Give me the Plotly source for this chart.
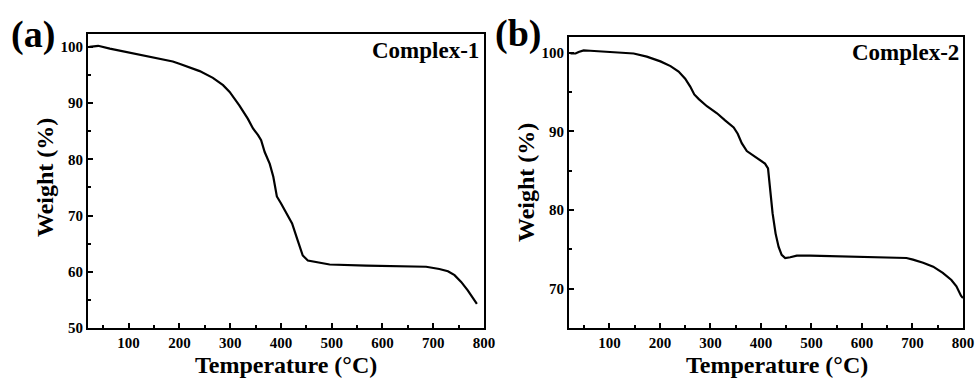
import plotly.graph_objects as go

# Panel (a) Complex-1
temp_a = [23, 40, 63, 100, 135, 187, 200, 240, 266, 286, 299, 318, 335, 345, 355, 361,
          368, 378, 385, 392, 400, 410, 422, 433, 443, 453, 476, 496, 568, 633, 686,
          712, 729, 742, 755, 768, 786]
weight_a = [100.0, 100.2, 99.7, 99.0, 98.4, 97.4, 97.0, 95.7, 94.5, 93.2, 92.0, 89.6, 87.2,
            85.5, 84.3, 83.4, 81.3, 79.2, 76.9, 73.4, 72.2, 70.6, 68.6, 65.6, 62.9, 62.0,
            61.6, 61.3, 61.1, 61.0, 60.9, 60.5, 60.1, 59.4, 58.2, 56.7, 54.3]

# Panel (b) Complex-2
temp_b = [23, 33, 39, 49, 62, 100, 148, 174, 201, 221, 237, 250, 260, 268, 277, 293, 313,
          329, 346, 354, 362, 372, 385, 398, 408, 414, 418, 423, 429, 435, 441, 448, 458,
          471, 497, 557, 622, 688, 701, 721, 741, 760, 777, 787, 796, 800]
weight_b = [99.9, 99.9, 100.1, 100.3, 100.25, 100.1, 99.9, 99.5, 98.9, 98.3, 97.6, 96.7,
            95.7, 94.7, 94.1, 93.2, 92.3, 91.4, 90.5, 89.7, 88.5, 87.5, 86.9, 86.4, 85.9,
            85.3, 82.5, 79.6, 77.0, 75.3, 74.3, 73.9, 74.0, 74.2, 74.2, 74.1, 74.0, 73.9,
            73.7, 73.3, 72.8, 72.0, 71.1, 70.3, 69.1, 68.8]

x_ticks = [100, 200, 300, 400, 500, 600, 700, 800]
y_ticks_a = [50, 60, 70, 80, 90, 100]
y_ticks_b = [70, 80, 90, 100]

W, H = 977, 378
FONT = "Times New Roman, Liberation Serif, serif"

def px_x(p):
    return p / W

def px_y(p):
    return 1 - p / H

fig = go.Figure()
fig.add_trace(go.Scatter(x=temp_a, y=weight_a, mode="lines", line=dict(color="black", width=2.2),
                         xaxis="x", yaxis="y", showlegend=False))
fig.add_trace(go.Scatter(x=temp_b, y=weight_b, mode="lines", line=dict(color="black", width=2.2),
                         xaxis="x2", yaxis="y2", showlegend=False))

tickfont = dict(family=FONT, size=15, color="black", weight="bold")

def xaxis(domain, anchor):
    return dict(domain=domain, anchor=anchor, range=[20, 800], tickvals=x_ticks,
                ticks="inside", ticklen=5, tickwidth=1.5, tickcolor="black",
                showline=True, linecolor="black", linewidth=2, mirror=True,
                showgrid=False, zeroline=False, tickfont=tickfont, automargin=False,
                minor=dict(tickvals=[50, 150, 250, 350, 450, 550, 650, 750], ticks="inside",
                           ticklen=3, tickwidth=1.5, tickcolor="black", showgrid=False))

def yaxis(domain, anchor, rng, tv, minor_vals):
    return dict(domain=domain, anchor=anchor, range=rng, tickvals=tv,
                ticks="inside", ticklen=5, tickwidth=1.5, tickcolor="black",
                showline=True, linecolor="black", linewidth=2, mirror=True,
                showgrid=False, zeroline=False, tickfont=tickfont, automargin=False,
                minor=dict(tickvals=minor_vals, ticks="inside",
                           ticklen=3, tickwidth=1.5, tickcolor="black", showgrid=False))

fig.update_layout(
    width=W, height=H, autosize=False,
    margin=dict(l=0, r=0, t=0, b=0),
    paper_bgcolor="white", plot_bgcolor="white",
    xaxis=xaxis([px_x(88), px_x(484)], "y"),
    yaxis=yaxis([px_y(328), px_y(34)], "x", [50, 102.3], y_ticks_a, [55, 65, 75, 85, 95]),
    xaxis2=xaxis([px_x(569), px_x(963)], "y2"),
    yaxis2=yaxis([px_y(328), px_y(37)], "x2", [65, 102], y_ticks_b, [75, 85, 95]),
)

def ann(text, x, y, size, xanchor="center", angle=0):
    fig.add_annotation(text=text, x=px_x(x), y=px_y(y), xref="paper", yref="paper",
                       showarrow=False, xanchor=xanchor, yanchor="middle", textangle=angle,
                       font=dict(family=FONT, size=size, color="black", weight="bold"))

ann("(a)", 33, 34, 38)
ann("(b)", 518, 33, 38)
ann("Complex-1", 481, 50, 23, xanchor="right")
ann("Complex-2", 961, 52, 23, xanchor="right")
ann("Weight (%)", 45, 178, 24, angle=-90)
ann("Weight (%)", 526, 183, 24, angle=-90)
ann("Temperature (°C)", 286, 365, 24)
ann("Temperature (°C)", 777, 365, 24)

fig.write_html("out.html")
